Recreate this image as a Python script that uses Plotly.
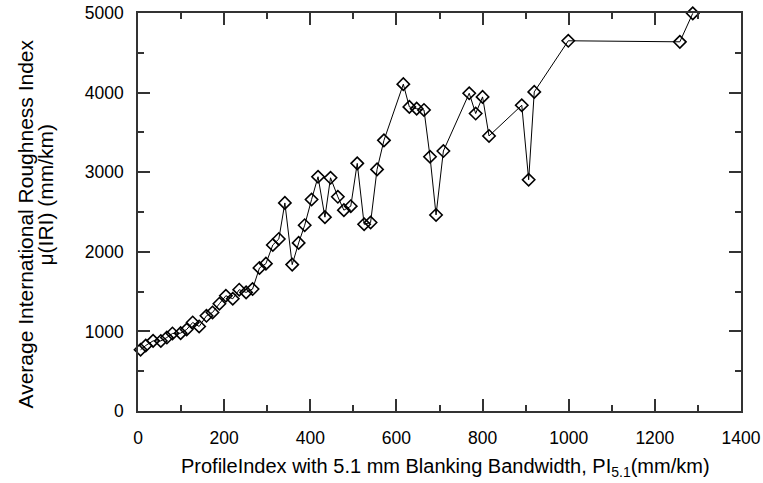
import plotly.graph_objects as go

pi_51 = [6, 18, 35, 53, 67, 80, 99, 113, 127, 142, 159, 173, 189, 204, 220, 235,
         251, 266, 282, 297, 313, 327, 341, 358, 373, 387, 403, 418, 434, 447, 464,
         478, 494, 509, 525, 540, 555, 571, 616, 630, 647, 664, 678, 692, 709, 769,
         784, 800, 815, 891, 907, 920, 999, 1258, 1288]
iri_mean = [770, 823, 881, 880, 923, 974, 978, 1024, 1112, 1062, 1196, 1238, 1348,
            1448, 1410, 1524, 1490, 1532, 1797, 1851, 2086, 2161, 2614, 1839, 2112,
            2334, 2657, 2943, 2435, 2930, 2691, 2523, 2573, 3111, 2346, 2368, 3035,
            3400, 4106, 3820, 3798, 3782, 3194, 2463, 3266, 3992, 3737, 3946, 3455,
            3841, 2905, 4009, 4651, 4638, 4996]

x_ticks = [0, 200, 400, 600, 800, 1000, 1200, 1400]
y_ticks = [0, 1000, 2000, 3000, 4000, 5000]

x_title = "ProfileIndex with 5.1 mm Blanking Bandwidth, PI<sub>5.1</sub>(mm/km)"
y_title_1 = "Average International Roughness Index"
y_title_2 = "\u03bc(IRI) (mm/km)"

FONT = "Liberation Sans, Arial, sans-serif"
W, H = 763, 483
# plot area in page pixels: left 138, right 741, top 13, bottom 411
L, T = 138, 13
R, B = W - 741, H - 411
PW, PH = W - L - R, H - T - B

fig = go.Figure()
fig.add_trace(go.Scatter(
    x=pi_51, y=iri_mean, mode="lines+markers",
    line=dict(color="black", width=1),
    marker=dict(symbol="diamond-open", size=9.5, color="black", line=dict(width=1.6)),
    showlegend=False, cliponaxis=False,
))

axis_common = dict(
    showline=True, linecolor="#333", linewidth=1.5, mirror="ticks",
    ticks="inside", tickcolor="#333", tickwidth=1.5, ticklen=12,
    showgrid=False, zeroline=False, automargin=False,
    ticklabeloverflow="allow",
    tickfont=dict(family=FONT, size=17.5, color="black"),
)

fig.update_xaxes(
    range=[0, 1400], tickvals=x_ticks, ticktext=[str(v) for v in x_ticks],
    minor=dict(dtick=100, ticks="inside", ticklen=6, tickcolor="#333", tickwidth=1.5),
    ticklabelstandoff=10,
    **axis_common,
)
fig.update_yaxes(
    range=[0, 5000], tickvals=y_ticks, ticktext=[str(v) for v in y_ticks],
    minor=dict(dtick=500, ticks="inside", ticklen=6, tickcolor="#333", tickwidth=1.5),
    ticklabelstandoff=9,
    **axis_common,
)

def px_x(p):
    return (p - L) / PW

def px_y(p):
    return 1 - (p - T) / PH

fig.add_annotation(text=x_title, xref="paper", yref="paper",
                   x=px_x(445), y=px_y(467), xanchor="center", yanchor="middle",
                   showarrow=False, font=dict(family=FONT, size=20, color="black"))
fig.add_annotation(text=y_title_1, xref="paper", yref="paper",
                   x=px_x(24.5), y=px_y(224), xanchor="center", yanchor="middle",
                   textangle=-90, showarrow=False,
                   font=dict(family=FONT, size=21, color="black"))
fig.add_annotation(text=y_title_2, xref="paper", yref="paper",
                   x=px_x(44.5), y=px_y(195), xanchor="center", yanchor="middle",
                   textangle=-90, showarrow=False,
                   font=dict(family=FONT, size=21, color="black"))

fig.update_layout(
    width=W, height=H,
    margin=dict(l=L, r=R, t=T, b=B),
    paper_bgcolor="white", plot_bgcolor="white",
)

fig.write_html(
    "out.html",
    config={"displayModeBar": False},
    post_script="document.body.style.margin='0';document.body.style.overflow='hidden';",
)
